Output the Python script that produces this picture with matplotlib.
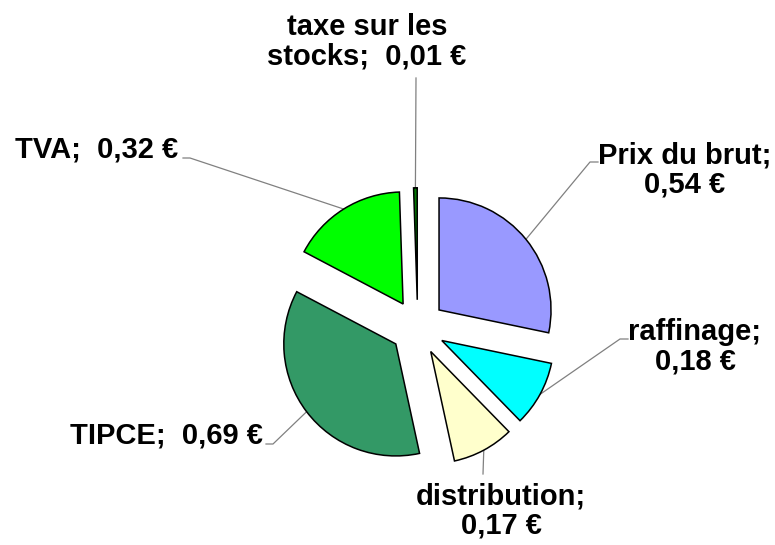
import numpy as np
import matplotlib.pyplot as plt

# Data
names = ["Prix du brut", "raffinage", "distribution", "TIPCE", "TVA", "taxe sur les\nstocks"]
values = [0.54, 0.18, 0.17, 0.69, 0.32, 0.01]
colors = ["#9999FF", "#00FFFF", "#FFFFCC", "#339966", "#00FF00", "#007A00"]

W, H = 775, 545
fig = plt.figure(figsize=(W / 100, H / 100), dpi=100)
ax = fig.add_axes([0, 0, 1, 1])

cx, cy = 417.7, H - 327.3
radius = 112
expl = 27.5

wedges, _ = ax.pie(
    values,
    colors=colors,
    startangle=90,
    counterclock=False,
    explode=[expl] * len(values),
    radius=radius,
    center=(cx, cy),
    frame=True,
    wedgeprops=dict(edgecolor="black", linewidth=1.1),
)
ax.set_xlim(0, W)
ax.set_ylim(0, H)
ax.axis("off")


def fmt(v):
    return ("%.2f" % v).replace(".", ",") + " €"


texts = [
    names[0] + ";\n" + fmt(values[0]),
    names[1] + ";\n" + fmt(values[1]),
    names[2] + ";\n" + fmt(values[2]),
    names[3] + ";  " + fmt(values[3]),
    names[4] + ";  " + fmt(values[4]),
    names[5] + ";  " + fmt(values[5]),
]

# label centres and leader elbows / ends (image pixel coords, y down)
label_pos = [(685, 170), (695, 347), (501, 511), (166, 436), (97, 150), (367, 42)]
elbows = [(590, 162), (620, 339), (483, 474), (273, 444), (190, 158), (416, 78)]
ends = [(598, 162), (628, 339), (483, 474), (266, 444), (183, 158), (416, 78)]

for w, txt, lp, el, en in zip(wedges, texts, label_pos, elbows, ends):
    ang = np.deg2rad((w.theta1 + w.theta2) / 2)
    wx, wy = w.center
    sx = wx + radius * np.cos(ang)
    sy = wy + radius * np.sin(ang)
    ax.plot([sx, el[0], en[0]], [sy, H - el[1], H - en[1]],
            color="#808080", linewidth=0.9, zorder=0)
    ax.text(lp[0], H - lp[1], txt, ha="center", va="center",
            multialignment="center", linespacing=1.05,
            fontsize=21, fontweight="bold", family="Liberation Sans")

fig.savefig("out.png", dpi=100)
